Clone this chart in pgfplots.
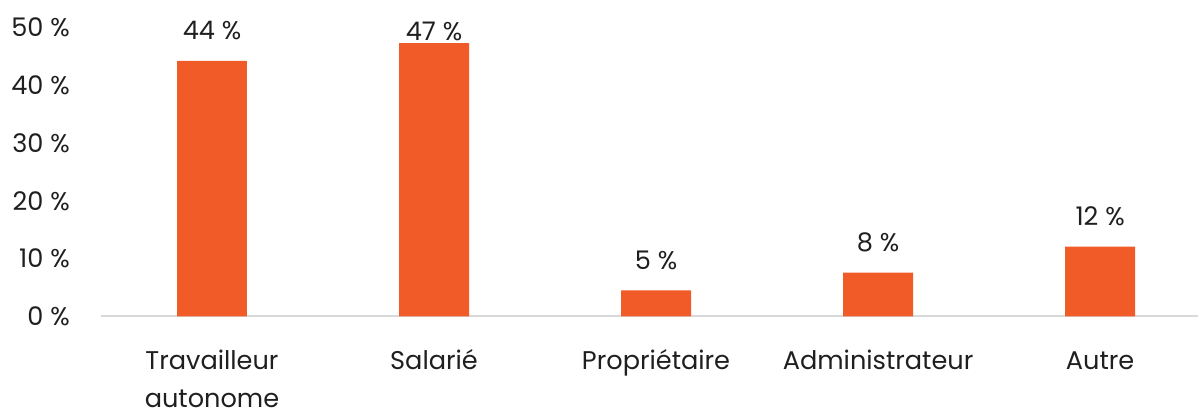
\documentclass[border=0pt]{standalone}
\usepackage{pgfplots}
\pgfplotsset{compat=1.18}
\usepackage{pgfplotstable}
\usepackage{fontspec}
\setmainfont{Poppins}
\definecolor{barorange}{HTML}{F15B27}
\definecolor{txt}{HTML}{1F1F1F}
\definecolor{axgray}{HTML}{D9D9D9}
\pgfplotstableread{
x y label dy
0 44.2 44 15.75
1 47.3 47 2
2 4.5 5 15.75
3 7.6 8 15.75
4 12.1 12 15.75
}\datatable
\begin{document}
\begin{tikzpicture}
\begin{axis}[
  scale only axis, width=822.75pt, height=216.75pt,
  xmin=-0.5, xmax=4.441, ymin=0, ymax=50,
  separate axis lines,
  axis x line*=bottom, axis y line*=left,
  x axis line style={-, draw=axgray, line width=1.5pt},
  y axis line style={draw=none},
  major tick length=0pt,
  xtick={0,1,2,3,4},
  xticklabels={{\begin{tabular}[t]{@{}c@{}}Travailleur\\autonome\end{tabular}},Salarié,Propriétaire,Administrateur,Autre},
  x tick label style={anchor=base, inner sep=0pt, yshift=-40.1pt,
    font=\fontsize{19.2}{28.4}\selectfont, text=txt},
  ytick={0,10,20,30,40,50},
  yticklabels={0 \%,10 \%,20 \%,30 \%,40 \%,50 \%},
  y tick label style={anchor=east, inner sep=0pt, xshift=-23.25pt,
    font=\fontsize{19.2}{23}\selectfont, text=txt},
  clip=false,
]
\addplot[ybar, bar width=0.315, fill=barorange, draw=none,
  nodes near coords={\pgfplotspointmeta\ \%},
  point meta=explicit symbolic,
  visualization depends on={\thisrow{dy} \as \dy},
  every node near coord/.append style={anchor=base, inner sep=0pt,
    yshift=\dy pt, font=\fontsize{19.2}{23}\selectfont, text=txt}]
  table[x=x, y=y, meta=label] {\datatable};
\coordinate (SW) at (rel axis cs:0,0);
\coordinate (NE) at (rel axis cs:1,1);
\end{axis}
\pgfresetboundingbox
\path ([xshift=-75.75pt, yshift=-70.9pt]SW) rectangle ([yshift=20.6pt]NE);
\end{tikzpicture}
\end{document}
